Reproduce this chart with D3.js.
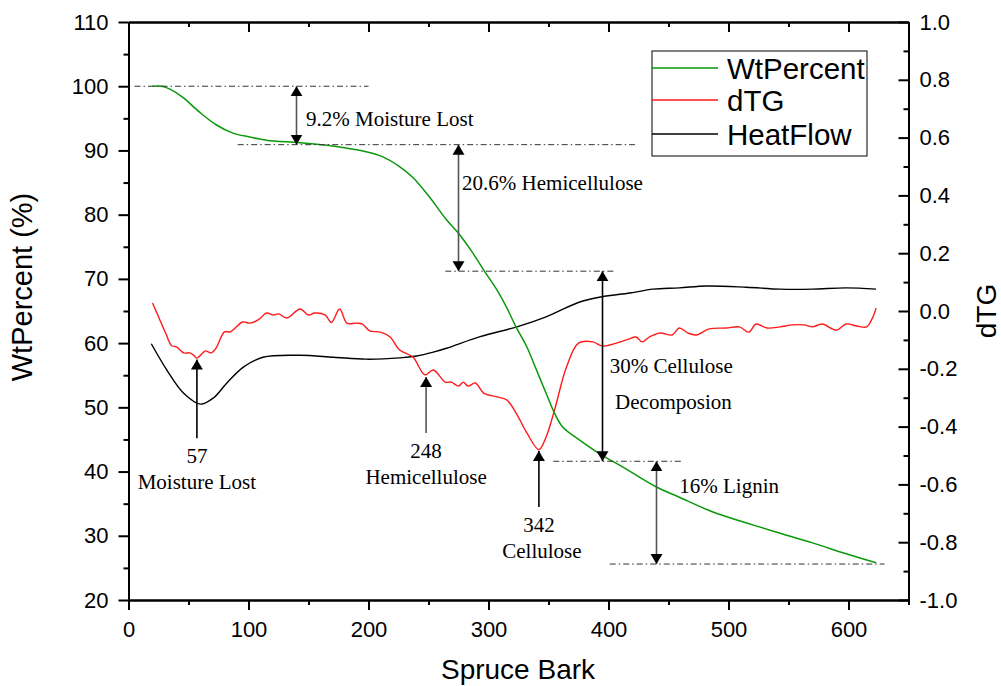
<!DOCTYPE html>
<html>
<head>
<meta charset="utf-8">
<script src="https://cdn.jsdelivr.net/npm/d3@7"></script>
<style>
  html, body { margin: 0; padding: 0; background: #fff; }
  svg { display: block; }
</style>
</head>
<body>
<svg id="chart" width="1001" height="686"></svg>
<script>
// Thermogravimetric analysis of spruce bark: weight %, derivative (dTG) and heat flow.

// Weight percent (left axis)
const wtTemp = [20, 28, 35, 45, 59, 73, 87, 101, 115, 143, 170, 198, 212, 225, 237, 251, 265, 275, 287, 297, 307, 315, 323, 332, 340, 348, 355, 362, 376, 394, 412, 440, 459, 487, 515, 543, 570, 598, 623];
const wtValue = [100.0, 100.0, 99.5, 98.3, 96.0, 94.0, 92.7, 92.1, 91.6, 91.2, 90.7, 89.8, 89.0, 87.6, 85.8, 82.7, 79.2, 77.1, 74.0, 71.1, 68.3, 65.6, 62.5, 59.4, 55.8, 52.2, 49.1, 46.9, 44.9, 42.6, 40.7, 37.6, 36.0, 33.7, 32.0, 30.4, 28.9, 27.2, 25.8];

// Derivative thermogravimetry (right axis)
const dtgTemp = [20, 25, 31, 36, 40, 46, 51, 54, 57, 61, 64, 69, 73, 80, 85, 95, 101, 109, 115, 121, 125, 132, 143, 150, 155, 164, 169, 176, 182, 190, 195, 201, 210, 218, 226, 237, 247, 254, 264, 269, 275, 279, 283, 289, 296, 307, 315, 323, 332, 342, 348, 355, 365, 375, 387, 395, 415, 423, 428, 434, 443, 453, 459, 466, 473, 484, 498, 509, 517, 523, 532, 543, 553, 563, 570, 578, 590, 598, 607, 615, 620, 623];
const dtgValue = [0.028, -0.02, -0.077, -0.12, -0.124, -0.145, -0.145, -0.152, -0.163, -0.149, -0.138, -0.145, -0.128, -0.072, -0.072, -0.038, -0.042, -0.028, -0.007, -0.014, -0.010, -0.024, 0.007, -0.014, -0.007, -0.014, -0.040, 0.007, -0.042, -0.042, -0.045, -0.069, -0.073, -0.090, -0.135, -0.159, -0.221, -0.204, -0.246, -0.246, -0.260, -0.246, -0.260, -0.249, -0.284, -0.297, -0.307, -0.353, -0.422, -0.480, -0.436, -0.343, -0.194, -0.111, -0.107, -0.121, -0.100, -0.090, -0.107, -0.090, -0.076, -0.083, -0.059, -0.076, -0.083, -0.062, -0.059, -0.055, -0.073, -0.045, -0.059, -0.055, -0.048, -0.048, -0.055, -0.045, -0.066, -0.045, -0.052, -0.055, -0.024, 0.010];

// Heat flow (drawn on the left-axis scale)
const hfTemp = [19, 32, 46, 60, 71, 82, 96, 112, 143, 171, 198, 226, 240, 254, 265, 293, 323, 348, 376, 394, 418, 437, 459, 482, 515, 543, 570, 598, 623];
const hfValue = [59.9, 55.8, 52.2, 50.5, 51.5, 53.8, 56.3, 57.8, 58.1, 57.8, 57.5, 57.7, 58.0, 58.6, 59.2, 61.0, 62.5, 64.1, 66.4, 67.2, 67.8, 68.4, 68.6, 68.9, 68.7, 68.4, 68.4, 68.6, 68.4];

// Axis ticks
const xTicks = [0, 100, 200, 300, 400, 500, 600];
const xMinor = [50, 150, 250, 350, 450, 550, 650];
const yTicks = [20, 30, 40, 50, 60, 70, 80, 90, 100, 110];
const yMinor = [25, 35, 45, 55, 65, 75, 85, 95, 105];
const y2Ticks = [-1.0, -0.8, -0.6, -0.4, -0.2, 0.0, 0.2, 0.4, 0.6, 0.8, 1.0];
const y2Minor = [-0.9, -0.7, -0.5, -0.3, -0.1, 0.1, 0.3, 0.5, 0.7, 0.9];

// Reference levels (dash-dot) : [weight %, from T, to T]
const levelLines = [[100.0, 5, 200], [90.9, 91, 422], [71.2, 264, 406], [41.6, 354, 462], [25.6, 401, 630]];
// Step arrows between levels : [T, top %, bottom %, label, label T, label %]
const stepArrows = [
  [140, 100.0, 90.9, "9.2% Moisture Lost", 148, 93.8],
  [275, 90.9, 71.2, "20.6% Hemicellulose", 278, 83.8],
  [395, 71.2, 41.6, "30% Cellulose", 401, 55.3],
  [440, 41.6, 25.6, "16% Lignin", 459, 36.7]
];
const stepColors = ["#555", "#555", "#000", "#555"];
// Peak markers on dTG : [peak T, tip dTG, tail dTG, name]
const peaks = [[57, -0.168, -0.44, "Moisture Lost"], [248, -0.228, -0.422, "Hemicellulose"], [342, -0.484, -0.678, "Cellulose"]];
const peakColors = ["#000", "#555", "#000"];

const legendNames = ["WtPercent", "dTG", "HeatFlow"];
const seriesColors = ["#0a990a", "#ff1a1a", "#000000"];

const svg = d3.select("#chart");
const W = 1001, H = 686;
const plotLeft = 128.5, plotRight = 908.5, plotTop = 22, plotBottom = 600;

svg.append("rect").attr("width", W).attr("height", H).attr("fill", "#fff");

const x = d3.scaleLinear().domain([0, 650]).range([plotLeft, plotRight]);
const y = d3.scaleLinear().domain([20, 110]).range([plotBottom, plotTop]);
const y2 = d3.scaleLinear().domain([-1, 1]).range([plotBottom, plotTop]);

const sans = "'Liberation Sans', Arial, sans-serif";
const serif = "'Liberation Serif', 'Times New Roman', serif";

function styleAxis(g) {
  g.selectAll("path.domain").attr("stroke", "#000").attr("stroke-width", 2);
  g.selectAll(".tick line").attr("stroke", "#000").attr("stroke-width", 2);
  g.selectAll(".tick text").attr("font-family", sans).attr("font-size", 22).attr("fill", "#000");
}

// Bottom axis (ticks outward)
const gx = svg.append("g").attr("transform", `translate(0,${plotBottom})`)
  .call(d3.axisBottom(x).tickValues(xTicks).tickSize(10).tickSizeOuter(0).tickPadding(11).tickFormat(d3.format("d")));
styleAxis(gx);
const gxm = svg.append("g").attr("transform", `translate(0,${plotBottom})`)
  .call(d3.axisBottom(x).tickValues(xMinor).tickSize(5).tickSizeOuter(0).tickFormat(""));
styleAxis(gxm);

// Top axis (ticks inward, no labels)
const gt = svg.append("g").attr("transform", `translate(0,${plotTop})`)
  .call(d3.axisTop(x).tickValues(xTicks).tickSize(-10).tickSizeOuter(0).tickFormat(""));
styleAxis(gt);
const gtm = svg.append("g").attr("transform", `translate(0,${plotTop})`)
  .call(d3.axisTop(x).tickValues(xMinor).tickSize(-5).tickSizeOuter(0).tickFormat(""));
styleAxis(gtm);

// Left axis (ticks outward)
const gy = svg.append("g").attr("transform", `translate(${plotLeft},0)`)
  .call(d3.axisLeft(y).tickValues(yTicks).tickSize(10).tickSizeOuter(0).tickPadding(10));
styleAxis(gy);
const gym = svg.append("g").attr("transform", `translate(${plotLeft},0)`)
  .call(d3.axisLeft(y).tickValues(yMinor).tickSize(5).tickSizeOuter(0).tickFormat(""));
styleAxis(gym);

// Right axis (ticks inward, labels outside)
const gy2 = svg.append("g").attr("transform", `translate(${plotRight},0)`)
  .call(d3.axisRight(y2).tickValues(y2Ticks).tickSize(-10).tickSizeOuter(0).tickPadding(11).tickFormat(d3.format(".1f")));
styleAxis(gy2);
gy2.selectAll(".tick text").text(d => d3.format(".1f")(d).replace("−", "-"));
const gy2m = svg.append("g").attr("transform", `translate(${plotRight},0)`)
  .call(d3.axisRight(y2).tickValues(y2Minor).tickSize(-5).tickSizeOuter(0).tickFormat(""));
styleAxis(gy2m);

// Axis titles
svg.append("text").attr("x", 518).attr("y", 679).attr("text-anchor", "middle")
  .attr("font-family", sans).attr("font-size", 28).text("Spruce Bark");
svg.append("text").attr("transform", "translate(32,287) rotate(-90)").attr("text-anchor", "middle")
  .attr("font-family", sans).attr("font-size", 29).text("WtPercent (%)");
svg.append("text").attr("transform", "translate(996,311) rotate(-90)").attr("text-anchor", "middle")
  .attr("font-family", sans).attr("font-size", 28).text("dTG");

// Arrow marker
const defs = svg.append("defs");
defs.append("marker").attr("id", "head").attr("viewBox", "0 0 10 14")
  .attr("refX", 10).attr("refY", 7).attr("markerWidth", 10).attr("markerHeight", 14)
  .attr("markerUnits", "userSpaceOnUse").attr("orient", "auto-start-reverse")
  .append("path").attr("d", "M0,1 L10,7 L0,13 Z").attr("fill", "#000");

// Series
const line = d3.line().curve(d3.curveCatmullRom.alpha(0.5));
svg.append("path")
  .attr("d", line(hfTemp.map((t, i) => [x(t), y(hfValue[i])])))
  .attr("fill", "none").attr("stroke", seriesColors[2]).attr("stroke-width", 1.4);
svg.append("path")
  .attr("d", line(dtgTemp.map((t, i) => [x(t), y2(dtgValue[i])])))
  .attr("fill", "none").attr("stroke", seriesColors[1]).attr("stroke-width", 1.4);
svg.append("path")
  .attr("d", line(wtTemp.map((t, i) => [x(t), y(wtValue[i])])))
  .attr("fill", "none").attr("stroke", seriesColors[0]).attr("stroke-width", 1.5);

// Reference levels
svg.append("g").selectAll("line").data(levelLines).join("line")
  .attr("x1", d => x(d[1])).attr("x2", d => x(d[2]))
  .attr("y1", d => y(d[0])).attr("y2", d => y(d[0]))
  .attr("stroke", "#333").attr("stroke-width", 1).attr("stroke-dasharray", "6,3,1.5,3");

// Step arrows with labels
stepArrows.forEach((d, i) => {
  svg.append("line").attr("x1", x(d[0])).attr("x2", x(d[0]))
    .attr("y1", y(d[1])).attr("y2", y(d[2]))
    .attr("stroke", stepColors[i]).attr("stroke-width", 1.6)
    .attr("marker-start", "url(#head)").attr("marker-end", "url(#head)");
  svg.append("text").attr("x", x(d[4])).attr("y", y(d[5]))
    .attr("font-family", serif).attr("font-size", 21).attr("fill", "#000").text(d[3]);
});
svg.append("text").attr("x", x(405.5)).attr("y", y(49.7))
  .attr("font-family", serif).attr("font-size", 21).attr("fill", "#000").text("Decomposion");

// Peak arrows with labels
peaks.forEach((d, i) => {
  svg.append("line").attr("x1", x(d[0])).attr("x2", x(d[0]))
    .attr("y1", y2(d[2])).attr("y2", y2(d[1]))
    .attr("stroke", peakColors[i]).attr("stroke-width", 1.6)
    .attr("marker-end", "url(#head)");
  svg.append("text").attr("x", x(d[0])).attr("y", y2(d[2]) + 25)
    .attr("text-anchor", "middle").attr("font-family", serif).attr("font-size", 21).text(d3.format("d")(d[0]));
  svg.append("text").attr("x", x(d[0]) + (i === 2 ? 3 : 0)).attr("y", y2(d[2]) + 51)
    .attr("text-anchor", "middle").attr("font-family", serif).attr("font-size", 21).text(d[3]);
});

// Legend
const lg = svg.append("g").attr("transform", "translate(652,51)");
lg.append("rect").attr("width", 215).attr("height", 105)
  .attr("fill", "#fff").attr("stroke", "#000").attr("stroke-width", 1);
const rowY = [17, 49, 83];
legendNames.forEach((n, i) => {
  lg.append("line").attr("x1", 0).attr("x2", 66).attr("y1", rowY[i]).attr("y2", rowY[i])
    .attr("stroke", seriesColors[i]).attr("stroke-width", 1.3);
  lg.append("text").attr("x", 75).attr("y", rowY[i] + 10.5)
    .attr("font-family", sans).attr("font-size", 29.5).text(n);
});
</script>
</body>
</html>
